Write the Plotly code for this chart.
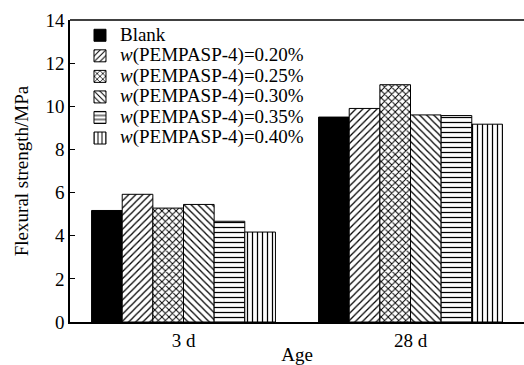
import plotly.graph_objects as go

categories = ["3 d", "28 d"]
series_names = ["Blank",
                "<i>w</i>(PEMPASP-4)=0.20%",
                "<i>w</i>(PEMPASP-4)=0.25%",
                "<i>w</i>(PEMPASP-4)=0.30%",
                "<i>w</i>(PEMPASP-4)=0.35%",
                "<i>w</i>(PEMPASP-4)=0.40%"]
blank = [5.17, 9.50]
w020 = [5.92, 9.90]
w025 = [5.28, 11.0]
w030 = [5.45, 9.60]
w035 = [4.67, 9.57]
w040 = [4.17, 9.17]
values = [blank, w020, w025, w030, w035, w040]
patterns = ["", "/", "x", "\\", "-", "|"]
solidities = [0, 0.25, 0.35, 0.25, 0.25, 0.25]

FONT = "Liberation Serif, Times New Roman, serif"

fig = go.Figure()
for name, vals, pat, sol in zip(series_names, values, patterns, solidities):
    if pat == "":
        marker = dict(color="black", line=dict(color="black", width=1))
    else:
        marker = dict(color="white", line=dict(color="black", width=1),
                      pattern=dict(shape=pat, fgcolor="black", bgcolor="white",
                                   size=5, solidity=sol, fillmode="replace"))
    fig.add_trace(go.Bar(x=categories, y=vals,
                         name='<span style="font-size:19px">' + name + '</span>',
                         marker=marker))

fig.update_layout(
    width=524, height=365,
    margin=dict(l=70, r=0, t=20, b=43),
    paper_bgcolor="white", plot_bgcolor="white",
    barmode="group", bargap=0.19, bargroupgap=0,
    font=dict(family=FONT, size=19, color="black"),
    showlegend=True,
    legend=dict(x=0.022, y=1.0, xanchor="left", yanchor="top",
                bgcolor="rgba(0,0,0,0)", font=dict(size=13.5, family=FONT),
                tracegroupgap=0, itemwidth=30),
    xaxis=dict(range=[-0.5, 1.5], showline=True, linecolor="black", linewidth=1.5,
               ticks="", showgrid=False, zeroline=False,
               tickfont=dict(size=19),
               title=dict(text="Age", standoff=0, font=dict(size=19))),
    yaxis=dict(range=[0, 14], dtick=2, showline=True, linecolor="black", linewidth=1.5,
               ticks="inside", ticklen=5, tickcolor="black", showgrid=False, zeroline=False,
               tickfont=dict(size=19),
               title=dict(text="Flexural strength/MPa", standoff=12, font=dict(size=19))),
    shapes=[dict(type="line", xref="paper", yref="paper", x0=0, x1=1, y0=1, y1=1,
                 line=dict(color="black", width=1.5))],
)

fig.write_html("out.html")
